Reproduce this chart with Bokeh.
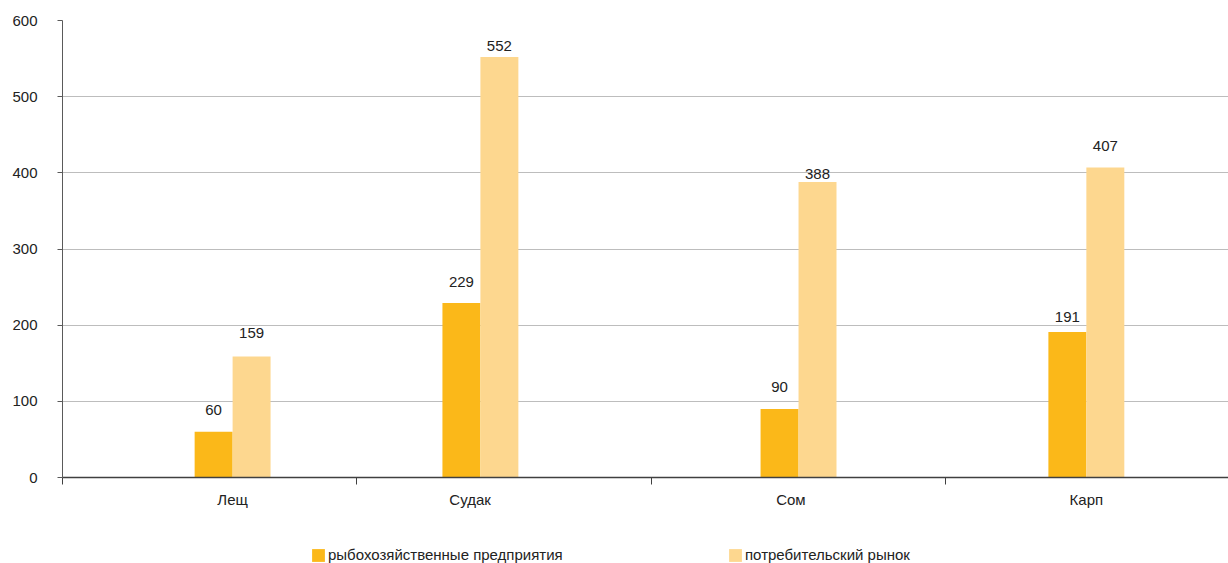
from bokeh.plotting import figure
from bokeh.models import (ColumnDataSource, FixedTicker, LinearAxis, Range1d,
                          Legend, LegendItem, Grid)
from bokeh.layouts import column
from bokeh.core.properties import value
from bokeh.embed import file_html
from bokeh.resources import INLINE

# ---- data ----
categories = ["Лещ", "Судак", "Сом", "Карп"]
enterprises = [60, 229, 90, 191]          # рыбохозяйственные предприятия
consumer = [159, 552, 388, 407]           # потребительский рынок
series_names = ["рыбохозяйственные предприятия", "потребительский рынок"]
y_ticks = [0, 100, 200, 300, 400, 500, 600]

# ---- layout (positions in category-band units, styles) ----
group_center = [0.578, 1.420, 2.501, 3.479]
label_center = [0.578, 1.385, 2.475, 3.479]
band_edges = [0, 1, 2, 3]
bar_w = 0.129
dy_ent = [22, 21, 22, 15]
dy_con = [23, 11, 8, 22]
legend_x = [248, 665]
FONT = "Liberation Sans"
C_DARK = "#FBB819"
C_LIGHT = "#FDD78F"
colors = [C_DARK, C_LIGHT]

x_dark = [c - bar_w / 2 for c in group_center]
x_light = [c + bar_w / 2 for c in group_center]

src_d = ColumnDataSource(dict(x=x_dark, top=enterprises,
                              lab=[str(v) for v in enterprises],
                              dy=[-d for d in dy_ent]))
src_l = ColumnDataSource(dict(x=x_light, top=consumer,
                              lab=[str(v) for v in consumer],
                              dy=[-d for d in dy_con]))

p = figure(width=1228, height=530, frame_width=1166, frame_height=457,
           output_backend="svg", toolbar_location=None,
           x_range=Range1d(0, 3.962), y_range=Range1d(0, 600),
           x_axis_location=None, y_axis_location=None)
p.min_border_left = 62
p.min_border_right = 0
p.min_border_top = 20
p.min_border_bottom = 53
p.outline_line_color = None
p.background_fill_color = "white"
p.border_fill_color = "white"

# y axis
ya = LinearAxis(ticker=FixedTicker(ticks=y_ticks))
ya.axis_line_color = "#5A5A5A"
ya.major_tick_line_color = "#5A5A5A"
ya.major_tick_in = 0
ya.major_tick_out = 5
ya.minor_tick_line_color = None
ya.major_label_standoff = 20
ya.major_label_text_font = FONT
ya.major_label_text_font_size = "15px"
ya.major_label_text_color = "#222222"
p.add_layout(ya, "left")

# x axis with boundary ticks
xa = LinearAxis(ticker=FixedTicker(ticks=band_edges))
xa.axis_line_color = "#404040"
xa.axis_line_width = 1.3
xa.major_tick_line_color = "#404040"
xa.major_tick_in = 0
xa.major_tick_out = 7
xa.minor_tick_line_color = None
xa.major_label_overrides = {e: "" for e in band_edges}
xa.major_label_text_font_size = "0px"
xa.major_label_standoff = 0
p.add_layout(xa, "below")

# category labels axis
xl = LinearAxis(ticker=FixedTicker(ticks=label_center))
xl.axis_line_color = None
xl.major_tick_line_color = None
xl.minor_tick_line_color = None
xl.major_label_overrides = {pos: name for pos, name in zip(label_center, categories)}
xl.major_label_standoff = 0
xl.major_label_text_font = FONT
xl.major_label_text_font_size = "15px"
xl.major_label_text_color = "#222222"
p.add_layout(xl, "below")

p.ygrid.visible = False
p.xgrid.visible = False
g = Grid(dimension=1, ticker=FixedTicker(ticks=y_ticks[1:]))
g.grid_line_color = "#BDBDBD"
g.grid_line_width = 1
p.add_layout(g)

p.vbar(x="x", top="top", width=bar_w, bottom=0, source=src_d,
       fill_color=C_DARK, line_color=None)
p.vbar(x="x", top="top", width=bar_w, bottom=0, source=src_l,
       fill_color=C_LIGHT, line_color=None)

for s in (src_d, src_l):
    p.text(x="x", y="top", text="lab", y_offset="dy", source=s,
           text_align="center", text_baseline="middle",
           text_font=value(FONT), text_font_size="15px", text_color="#222222")

# ---- legend strip ----
p2 = figure(width=1228, height=33, output_backend="svg", toolbar_location=None,
            x_range=Range1d(0, 1), y_range=Range1d(0, 1),
            x_axis_location=None, y_axis_location=None)
p2.min_border = 0
p2.outline_line_color = None
p2.xgrid.visible = False
p2.ygrid.visible = False
p2.background_fill_color = "white"
p2.border_fill_color = "white"

for name, col, lx in zip(series_names, colors, legend_x):
    # swatch-only renderer, drawn outside the visible range
    r = p2.vbar(x=[-5], top=[-4], bottom=[-5], width=0.1,
                fill_color=col, line_color=None)
    lg = Legend(items=[LegendItem(label=name, renderers=[r])],
                orientation="horizontal", location=(lx, 0))
    lg.glyph_width = 16
    lg.glyph_height = 16
    lg.label_standoff = 2
    lg.padding = 0
    lg.margin = 0
    lg.label_height = 16
    lg.label_text_font = FONT
    lg.label_text_font_size = "15px"
    lg.label_text_color = "#222222"
    lg.border_line_color = None
    lg.background_fill_alpha = 0
    p2.add_layout(lg, "center")

layout = column(p, p2, spacing=0)
open("out.html", "w").write(file_html(layout, INLINE))
